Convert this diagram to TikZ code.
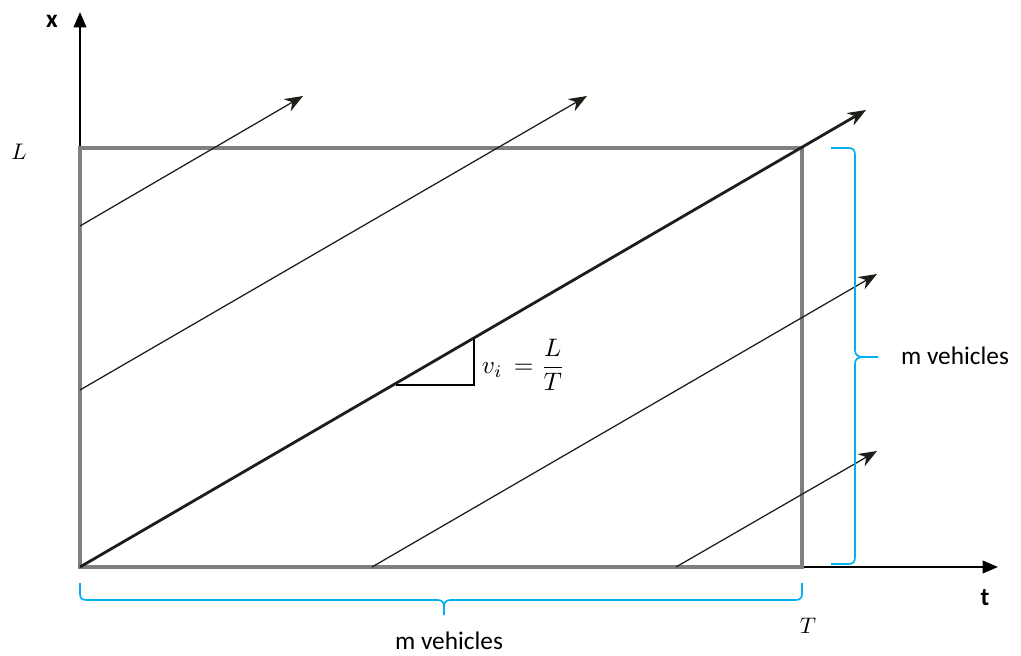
\documentclass[tikz,border=0pt]{standalone}
\usepackage{amsmath}
\usepackage{graphicx}
\usepackage{fontspec}
\setmainfont{Carlito}
\usepackage{tikz}
\usetikzlibrary{arrows.meta, calc}
\definecolor{framegrey}{RGB}{128,128,128}
\definecolor{bracecyan}{RGB}{0,176,240}
\definecolor{trajblack}{RGB}{30,30,25}

\begin{document}
\begin{tikzpicture}[
  x=0.025cm, y=-0.025cm,
  axis/.style={draw=black, line width=1.4pt, -{Triangle[length=11pt, width=9pt]}},
  frame/.style={draw=framegrey, line width=3.4pt},
  traj/.style={draw=trajblack, line width=0.9pt, -{Stealth[length=13pt, width=10pt]}},
  mainline/.style={traj, line width=2pt},
  mbrace/.style={draw=bracecyan, line width=1.2pt},
  lbl/.style={font=\fontsize{18}{20}\selectfont},
  axlbl/.style={font=\fontsize{18}{20}\selectfont\bfseries}
]
  \useasboundingbox (0,0) rectangle (1021,656);

  % corners of the box
  \coordinate (O) at (80,567);
  \coordinate (OL) at (80,148);
  \coordinate (OT) at (802,567);
  \coordinate (LT) at (802,148);

  % axes
  \coordinate (xtip) at (80,12);
  \coordinate (ttip) at (998,567);
  \draw[axis] (OL) -- (xtip);
  \draw[axis] (OT) -- (ttip);
  \node[axlbl] (xlab) at (52,21) {x};
  \node[axlbl] (tlab) at (985,598) {t};
  \node (Llab) at (19,152) {\scalebox{1.6}{$L$}};
  \node (Tlab) at (808,626) {\scalebox{1.6}{$T$}};

  \draw[frame] (O) rectangle (LT);

  % trajectories
  \coordinate (s1) at (80,226);  \coordinate (e1) at (303,96);
  \coordinate (s2) at (80,390);  \coordinate (e2) at (587,96);
  \coordinate (s4) at (372,567); \coordinate (e4) at (877,274);
  \coordinate (s5) at (676,567); \coordinate (e5) at (877,451);
  \coordinate (e3) at (866,110);
  \draw[traj] (s1) -- (e1);
  \draw[traj] (s2) -- (e2);
  \draw[mainline] (O) -- (e3);
  \draw[traj] (s4) -- (e4);
  \draw[traj] (s5) -- (e5);

  % slope triangle
  \coordinate (tri1) at (396,385);
  \coordinate (tri2) at (474,385);
  \coordinate (tri3) at (474,339);
  \draw[line width=1pt] (tri1) -- (tri2) -- (tri3);
  \node[anchor=west] (vlab) at (477,365)
    {\scalebox{1.8}{$v_i \,= \dfrac{L}{T}$}};

  % braces
  \draw[mbrace] (831,148) -- (848,148) .. controls (853,148) and (855,150) .. (855,155)
    -- (855,350) .. controls (855,355) and (858,357) .. (863,357) -- (878,357)
    (863,357) .. controls (858,357) and (855,359) .. (855,364)
    -- (855,557) .. controls (855,562) and (853,564) .. (848,564) -- (831,564);
  \node[lbl] (rlab) at (955,356) {m vehicles};
  \draw[mbrace] (80,583) -- (80,594) .. controls (80,598) and (82,600) .. (87,600)
    -- (437,600) .. controls (442,600) and (444,602) .. (444,607) -- (444,615)
    (444,607) .. controls (444,602) and (446,600) .. (451,600)
    -- (795,600) .. controls (800,600) and (802,598) .. (802,594) -- (802,583);
  \node[lbl] (blab) at (449,641) {m vehicles};
\end{tikzpicture}
\end{document}
